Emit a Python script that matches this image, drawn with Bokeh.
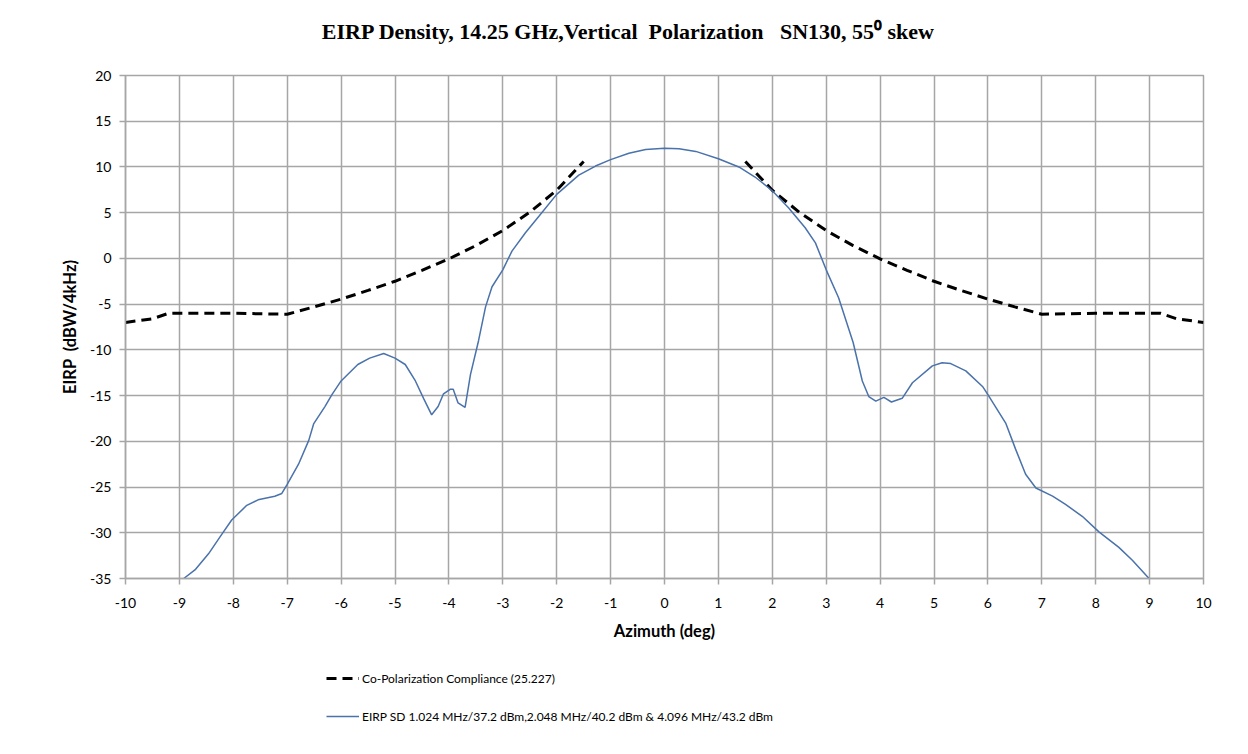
from bokeh.plotting import figure
from bokeh.models import Range1d, Legend, LegendItem, FixedTicker, Label, CustomJSTickFormatter
from bokeh.layouts import column
from bokeh.embed import file_html
from bokeh.resources import INLINE

# Measured EIRP density (blue)
eirp_az = [-8.92, -8.70, -8.46, -8.24, -8.03, -7.75, -7.54, -7.23, -7.10, -7.00,
           -6.79, -6.60, -6.51, -6.30, -6.17, -6.00, -5.69, -5.47, -5.21, -5.00,
           -4.81, -4.63, -4.47, -4.32, -4.20, -4.10, -3.97, -3.92, -3.83, -3.70,
           -3.60, -3.45, -3.32, -3.20, -3.00, -2.83, -2.58, -2.33, -2.00, -1.59,
           -1.28, -1.00, -0.66, -0.35, 0.00, 0.27, 0.58, 1.00, 1.38, 1.68,
           2.00, 2.30, 2.61, 2.80, 3.00, 3.23, 3.50, 3.67, 3.79, 3.92,
           4.07, 4.21, 4.41, 4.60, 4.97, 5.15, 5.31, 5.59, 5.90, 6.00,
           6.33, 6.51, 6.70, 6.89, 7.20, 7.44, 7.75, 8.06, 8.43, 8.68, 8.99]
eirp_val = [-35.0, -34.0, -32.3, -30.4, -28.6, -27.0, -26.4, -26.0, -25.7, -24.7,
            -22.5, -19.9, -18.1, -16.2, -14.9, -13.4, -11.6, -10.9, -10.4, -10.9,
            -11.6, -13.3, -15.3, -17.1, -16.2, -14.8, -14.3, -14.3, -15.8, -16.3,
            -12.7, -9.0, -5.3, -3.1, -1.25, 0.8, 2.8, 4.6, 7.0, 9.1,
            10.1, 10.8, 11.5, 11.9, 12.05, 12.0, 11.7, 10.9, 10.0, 8.9,
            7.4, 5.55, 3.35, 1.7, -1.25, -4.3, -9.2, -13.4, -15.1, -15.6,
            -15.2, -15.7, -15.3, -13.6, -11.75, -11.4, -11.5, -12.3, -14.0, -14.9,
            -18.0, -20.8, -23.6, -25.1, -26.0, -26.9, -28.2, -29.9, -31.6, -33.0, -35.0]

# Co-polarization compliance mask (dashed), NaN breaks the gap near boresight
mask_az = [-10.0, -9.5, -9.2, -8.0, -7.0, -6.5, -6.0, -5.5, -5.0, -4.5, -4.0,
           -3.5, -3.0, -2.5, -2.0, -1.5, float("nan"),
           1.5, 2.0, 2.5, 3.0, 3.5, 4.0, 4.5, 5.0, 5.5, 6.0, 6.5, 7.0,
           8.0, 9.2, 9.5, 10.0]
mask_val = [-7.0, -6.6, -6.0, -6.0, -6.1, -5.3, -4.45, -3.5, -2.5, -1.3, -0.05,
            1.4, 3.05, 5.05, 7.45, 10.6, float("nan"),
            10.6, 7.45, 5.05, 3.05, 1.4, -0.05, -1.3, -2.5, -3.5, -4.45, -5.3, -6.1,
            -6.0, -6.0, -6.6, -7.0]

x_ticks = list(range(-10, 11))
y_ticks = list(range(-35, 21, 5))

NB = "\u00a0"
title_text = "EIRP Density, 14.25 GHz,Vertical" + NB + " Polarization" + NB + NB + " SN130, 55\u2070 skew"
x_label = "Azimuth (deg)"
y_label = "EIRP" + NB + " (dBW/4kHz)"
legend_mask = "Co-Polarization Compliance (25.227)"
legend_eirp = "EIRP SD 1.024 MHz/37.2 dBm,2.048 MHz/40.2 dBm & 4.096 MHz/43.2 dBm"

MASK_STYLE = dict(line_color="#000000", line_width=3, line_dash="10 6")
EIRP_STYLE = dict(line_color="#4a72ab", line_width=1.5)

# ---- title strip ----
HEAD_H = 50
head = figure(width=1232, height=HEAD_H, output_backend="svg", toolbar_location=None,
              x_range=Range1d(-10, 10), y_range=Range1d(0, HEAD_H),
              min_border=0, outline_line_color=None)
head.axis.visible = False
head.grid.visible = False
head.add_layout(Label(x=0, y=19, x_offset=-36, text=title_text, text_align="center",
                      text_baseline="middle", text_font="Liberation Serif",
                      text_font_size="22px", text_font_style="bold", text_color="#000000"))

# ---- main chart ----
p = figure(width=1232, height=600, output_backend="svg", toolbar_location=None,
           x_range=head.x_range, y_range=Range1d(-35, 20),
           min_border_left=125, min_border_right=29, min_border_top=25,
           min_border_bottom=72)

grid_col = "#a6a6a6"
fmt = CustomJSTickFormatter(code="return tick.toString();")
p.xaxis.ticker = FixedTicker(ticks=x_ticks)
p.yaxis.ticker = FixedTicker(ticks=y_ticks)
for ax in (p.xaxis[0], p.yaxis[0]):
    ax.formatter = fmt
    ax.axis_line_color = grid_col
    ax.axis_line_width = 1.5
    ax.major_tick_line_color = grid_col
    ax.major_tick_line_width = 1.5
    ax.major_tick_out = 6
    ax.major_tick_in = 0
    ax.minor_tick_line_color = None
    ax.major_label_text_font = "Lato"
    ax.major_label_text_font_size = "14px"
    ax.major_label_text_color = "#000000"
    ax.axis_label_text_font = "Lato"
    ax.axis_label_text_font_size = "16.5px"
    ax.axis_label_text_font_style = "bold"
    ax.axis_label_text_color = "#000000"

p.xaxis.axis_label = x_label
p.xaxis.axis_label_standoff = 10
p.xaxis.major_label_standoff = 13
p.yaxis.axis_label = y_label
p.yaxis.axis_label_standoff = 7
p.yaxis.major_label_standoff = 8

p.xgrid.grid_line_color = grid_col
p.ygrid.grid_line_color = grid_col
p.xgrid.grid_line_width = 1.5
p.ygrid.grid_line_width = 1.5
p.outline_line_color = grid_col
p.outline_line_width = 1.5

p.line(mask_az, mask_val, **MASK_STYLE)
p.line(eirp_az, eirp_val, **EIRP_STYLE)

# ---- legend strip (same series, plotted out of view; only their legend shows) ----
lg = figure(width=1232, height=100, output_backend="svg", toolbar_location=None,
            x_range=Range1d(100, 101), y_range=Range1d(100, 101),
            min_border=0, outline_line_color=None)
lg.axis.visible = False
lg.grid.visible = False
lr_mask = lg.line(mask_az, mask_val, **MASK_STYLE)
lr_eirp = lg.line(eirp_az, eirp_val, **EIRP_STYLE)

legend = Legend(items=[LegendItem(label=legend_mask, renderers=[lr_mask]),
                       LegendItem(label=legend_eirp, renderers=[lr_eirp])],
                location=(201, 24), orientation="vertical",
                glyph_width=33, glyph_height=20, label_height=20, spacing=18,
                label_standoff=3, padding=0, margin=0,
                border_line_color=None, background_fill_alpha=0,
                label_text_font="Lato", label_text_font_size="12px",
                label_text_color="#000000")
lg.add_layout(legend, "center")

layout = column(head, p, lg, spacing=0)
open("out.html", "w").write(file_html(layout, INLINE))
